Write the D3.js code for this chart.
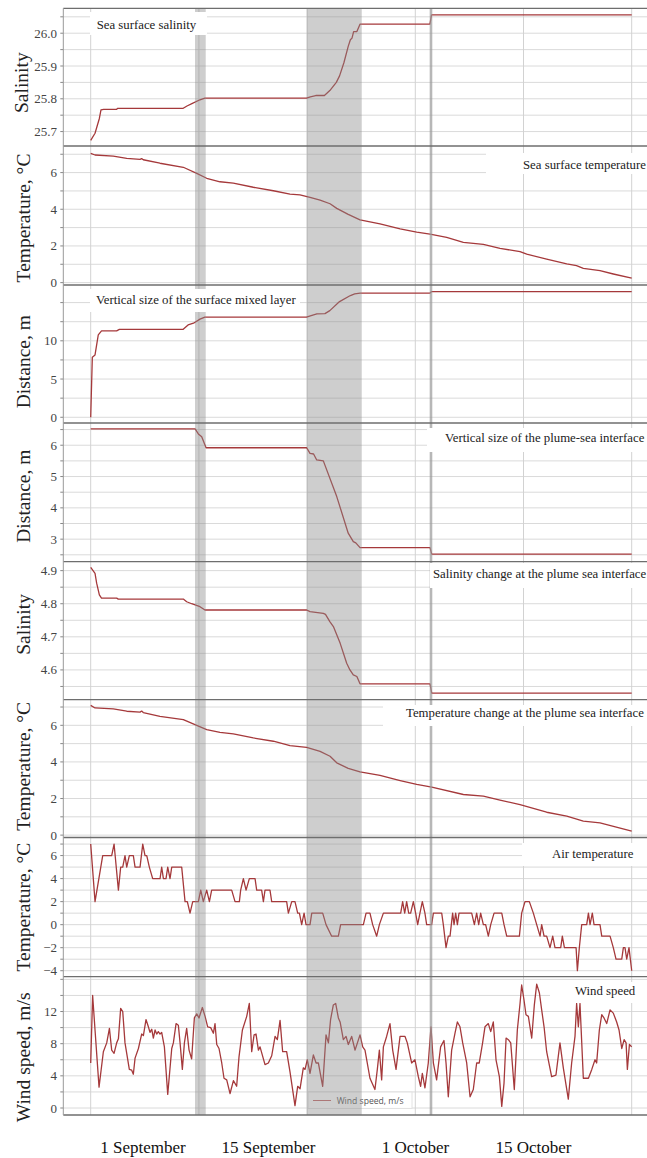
<!DOCTYPE html>
<html><head><meta charset="utf-8">
<script src="https://cdn.jsdelivr.net/npm/d3@7/dist/d3.min.js"></script>
<style>body{margin:0;background:#fff}svg{display:block}</style>
</head><body><svg id="c" width="647" height="1158"></svg>
<script>
// ---- data: [day since start, value] ----
const seaSurfaceSalinity = [[0,25.673],[0.4,25.695],[0.8,25.74],[0.95,25.766],[1.2,25.768],[2.4,25.768],[2.5,25.771],[8.55,25.771],[8.9,25.778],[9.35,25.785],[10.1,25.797],[10.55,25.802],[19.95,25.802],[20.3,25.806],[20.8,25.81],[21.6,25.81],[22.1,25.825],[22.7,25.85],[23.0,25.87],[23.4,25.91],[23.8,25.96],[24.0,25.98],[24.15,25.985],[24.3,26.005],[24.6,26.005],[24.9,26.028],[31.35,26.028],[31.5,26.056],[50,26.056]];
const seaSurfaceTemp = [[0,7.05],[0.4,6.96],[2.09,6.9],[3.33,6.78],[4.56,6.72],[4.71,6.76],[4.86,6.7],[6.4,6.51],[8.56,6.29],[9.8,5.96],[10.72,5.69],[11.95,5.5],[13.18,5.42],[15.03,5.2],[16.88,5.01],[18.42,4.83],[19.34,4.78],[20.27,4.65],[21.2,4.5],[22.12,4.3],[22.74,4.05],[23.8,3.72],[24.89,3.42],[26.74,3.2],[28.6,2.93],[30.13,2.75],[31.36,2.64],[32.9,2.47],[34.44,2.2],[36.29,2.09],[37.83,1.87],[39.68,1.69],[40.3,1.55],[42.14,1.28],[44.0,1.02],[44.9,0.93],[45.53,0.78],[47.07,0.65],[48.3,0.47],[50,0.24]];
const mixedLayerSize = [[0,0],[0.15,7.85],[0.4,8.15],[0.7,10.77],[1.0,11.3],[2.4,11.3],[2.65,11.5],[8.55,11.5],[9.0,12.08],[9.5,12.3],[10.1,12.83],[10.55,13.09],[19.95,13.09],[20.3,13.26],[20.9,13.52],[21.65,13.55],[22.1,13.95],[23.0,15.13],[24.0,15.92],[24.4,16.15],[24.9,16.23],[31.35,16.23],[31.5,16.44],[50,16.44]];
const interfaceSize = [[0,6.52],[9.65,6.52],[9.95,6.36],[10.26,6.27],[10.66,5.92],[19.96,5.92],[20.27,5.74],[20.6,5.72],[20.89,5.53],[21.5,5.5],[22.74,4.36],[23.8,3.19],[24.27,2.92],[24.5,2.88],[24.89,2.73],[31.36,2.73],[31.52,2.52],[50,2.52]];
const interfaceSalinity = [[0,4.91],[0.4,4.892],[0.55,4.862],[0.8,4.827],[1.0,4.817],[2.4,4.817],[2.55,4.814],[8.56,4.814],[8.87,4.806],[9.33,4.8],[10.1,4.791],[10.56,4.781],[19.96,4.781],[20.27,4.776],[21.5,4.771],[21.7,4.768],[22.1,4.746],[22.43,4.731],[23.05,4.681],[23.66,4.62],[23.96,4.6],[24.27,4.585],[24.6,4.58],[24.89,4.558],[31.36,4.558],[31.52,4.53],[50,4.53]];
const interfaceTemp = [[0,7.09],[0.4,6.95],[2.09,6.9],[3.33,6.77],[4.56,6.72],[4.71,6.78],[4.86,6.7],[6.4,6.49],[8.56,6.31],[9.8,6.0],[10.72,5.77],[11.95,5.62],[13.18,5.53],[15.03,5.31],[16.88,5.13],[18.42,4.89],[19.96,4.8],[21.2,4.58],[22.12,4.31],[22.74,3.95],[23.8,3.65],[24.89,3.46],[26.74,3.26],[28.6,2.98],[30.13,2.77],[31.52,2.62],[34.44,2.22],[36.29,2.13],[37.83,1.91],[39.68,1.67],[42.14,1.25],[44.0,1.04],[45.53,0.76],[47.07,0.67],[50,0.22]];
const airTemp = [[0,7],[0.4,2],[1.11,6],[1.94,6],[2.16,7],[2.56,3],[2.77,5],[2.96,5],[3.17,6],[3.33,5],[3.57,6],[3.94,6],[4.1,5],[4.56,5],[4.81,7],[5.02,6],[5.18,6],[5.42,5],[5.73,4],[6.41,4],[6.56,5],[6.72,4],[6.96,4],[7.12,5],[7.33,4],[7.49,5],[8.41,5],[8.72,2],[8.93,2],[9.18,1],[9.43,2],[9.95,2],[10.17,3],[10.41,2],[10.72,3],[10.97,2],[11.18,3],[13.03,3],[13.34,2],[13.74,2],[13.86,3],[14.11,4],[14.36,3],[14.66,4],[15.19,4],[15.34,3],[15.8,3],[15.96,2],[16.11,3],[16.57,3],[16.73,2],[18.11,2],[18.27,1],[18.58,2],[18.88,2],[19.13,1],[19.29,1],[19.5,0],[19.72,1],[19.9,0],[20.27,0],[20.43,1],[21.44,1],[21.75,0],[22.27,-1],[22.89,-1],[23.1,0],[25.2,0],[25.45,1],[25.81,1],[26.06,0],[26.43,-1],[26.68,0],[27.05,1],[28.65,1],[28.83,2],[29.02,1],[29.2,2],[29.39,1],[29.57,1],[29.82,2],[30.03,1],[30.22,0],[30.43,1],[30.65,2],[30.89,1],[31.05,0],[31.51,0],[31.67,1],[32.44,1],[32.59,0],[32.84,-2],[33.05,-1],[33.21,-1],[33.45,1],[33.58,0],[33.73,1],[33.89,0],[34.04,1],[35.21,1],[35.46,0],[35.67,1],[35.86,0],[36.04,1],[36.29,0],[36.5,0],[36.75,-1],[36.97,0],[37.28,1],[37.99,1],[38.2,0],[38.45,-1],[39.62,-1],[39.83,1],[40.14,2],[40.54,2],[40.91,1],[41.22,0],[41.53,-1],[41.68,0],[41.9,-1],[42.14,-1],[42.45,-2],[42.7,-1],[42.91,-2],[43.44,-2],[43.59,-1],[43.78,-2],[44.86,-2],[44.98,-4],[45.16,-2],[45.38,0],[45.84,0],[46.0,1],[46.15,0],[46.36,1],[46.52,0],[47.07,0],[47.23,-1],[48.0,-1],[48.3,-2],[48.55,-3],[49.08,-3],[49.23,-2],[49.38,-2],[49.54,-3],[49.75,-2],[50,-4]];
const windSpeed = [[0,5.6],[0.18,14],[0.4,9.7],[0.77,2.6],[1.17,7.0],[1.48,8.1],[1.73,9.9],[1.94,7.2],[2.16,6.8],[2.4,8.1],[2.56,8.6],[2.77,12.4],[2.96,12.0],[3.17,8.1],[3.57,4.8],[3.79,4.7],[3.94,4.2],[4.1,6.2],[4.41,7.4],[4.71,9.2],[4.87,9.0],[5.11,11.0],[5.33,10.1],[5.48,9.4],[5.64,9.8],[5.79,8.7],[5.95,9.7],[6.1,9.2],[6.25,9.5],[6.41,9.2],[6.56,9.4],[6.81,7.6],[7.12,1.7],[7.49,7.4],[7.64,8.1],[7.89,10.5],[8.1,10.3],[8.26,8.1],[8.47,4.8],[8.66,8.1],[8.87,9.9],[9.09,7.2],[9.33,6.1],[9.58,11.2],[9.8,11.7],[10.01,11.2],[10.32,12.5],[10.57,11.4],[10.81,10.1],[11.09,10.0],[11.34,9.3],[11.49,10.5],[11.65,7.9],[11.86,7.4],[12.11,5.6],[12.32,3.7],[12.57,3.5],[12.88,1.8],[13.19,3.4],[13.49,2.7],[13.71,6.4],[14.02,9.7],[14.42,11.4],[14.66,13.0],[14.88,7.0],[15.1,9.1],[15.28,9.2],[15.5,7.2],[15.65,7.6],[16.11,5.4],[16.42,5.6],[16.73,6.5],[17.04,8.9],[17.25,8.5],[17.5,10.9],[17.74,7.0],[18.11,7.0],[18.42,4.5],[18.88,0.3],[19.13,2.7],[19.35,2.4],[19.65,5.0],[19.81,4.8],[20.02,6.0],[20.27,4.3],[20.58,6.6],[20.83,5.6],[21.04,5.6],[21.44,2.7],[21.75,9.1],[21.97,8.1],[22.17,11.0],[22.42,12.8],[22.64,13.0],[22.89,11.2],[23.05,10.7],[23.35,8.5],[23.6,8.9],[23.81,7.9],[24.12,8.9],[24.43,7.2],[24.65,8.1],[24.89,9.1],[25.14,7.6],[25.35,7.2],[25.81,3.7],[26.27,2.3],[26.49,4.8],[26.68,7.2],[26.89,3.5],[27.05,7.6],[27.35,8.9],[27.66,10.5],[27.91,7.2],[28.22,4.8],[28.59,8.9],[29.05,8.9],[29.26,8.1],[29.66,5.6],[29.97,6.0],[30.28,3.9],[30.49,2.7],[30.65,4.3],[30.89,2.5],[31.2,5.6],[31.45,10.1],[31.67,5.6],[31.97,3.5],[32.34,7.6],[32.65,8.4],[32.84,5.6],[33.05,1.4],[33.36,7.2],[33.67,9.3],[33.89,10.7],[34.13,10.1],[34.38,8.1],[34.75,5.6],[35.06,1.4],[35.36,2.3],[35.67,5.6],[35.91,5.6],[36.22,8.1],[36.44,10.1],[36.75,10.5],[36.97,9.5],[37.21,10.7],[37.46,6.0],[37.77,3.9],[37.99,0.2],[38.2,3.1],[38.39,8.7],[38.6,8.5],[38.82,8.1],[39.15,2.3],[39.43,9.7],[39.68,13.0],[39.83,15.3],[40.05,13.4],[40.23,11.6],[40.45,11.4],[40.76,8.7],[41.0,12.8],[41.22,15.4],[41.47,14.3],[41.68,12.2],[41.9,10.1],[42.14,7.0],[42.6,3.9],[43.0,4.1],[43.37,8.1],[43.68,5.0],[44.14,1.1],[44.45,5.6],[44.76,8.9],[44.91,13.0],[45.07,10.1],[45.22,13.0],[45.53,3.7],[46.0,3.7],[46.31,4.8],[46.61,6.0],[46.76,5.6],[47.01,9.7],[47.23,11.6],[47.44,11.2],[47.69,10.5],[48.0,12.2],[48.3,11.8],[48.61,10.7],[48.83,9.7],[49.08,7.4],[49.3,8.5],[49.48,8.1],[49.6,4.8],[49.79,7.9],[50,7.6]];

const shadedPeriods = [[9.64,10.63],[19.97,25.05]];
const markerDay = 31.45;
const gridDays = [0,10,20,30,40,50];
const xTickDays = [4.79,16.39,29.97,40.87];
const xTickLabels = ["1 September","15 September","1 October","15 October"];

const yTitles = ["Salinity","Temperature, \u00B0C","Distance, m","Distance, m","Salinity","Temperature, \u00B0C","Temperature, \u00B0C","Wind speed, m/s"];
const panelLabels = ["Sea surface salinity","Sea surface temperature","Vertical size of the surface mixed layer","Vertical size of the plume-sea interface","Salinity change at the plume sea interface","Temperature change at the plume sea interface","Air temperature","Wind speed"];
const yTickValues = [[25.7,25.8,25.9,26.0],[0,2,4,6],[0,5,10],[3,4,5,6],[4.6,4.7,4.8,4.9],[0,2,4,6],[-4,-2,0,2,4,6],[0,4,8,12]];
const legendLabel = "Wind speed, m/s";

// ---- layout / style ----
const series = [seaSurfaceSalinity, seaSurfaceTemp, mixedLayerSize, interfaceSize, interfaceSalinity, interfaceTemp, airTemp, windSpeed];
const panelCfg = [
  {domain:[25.656,26.076], step:0.05, fmt:d3.format(".1f"), titleDy:5.5, titleX:28, box:[90,12,207,35], text:[96.7,29]},
  {domain:[-0.13,7.45], step:1, fmt:d3.format("d"), titleDy:2.5, titleX:30, box:[486,153,647,174], text:[523,168.5]},
  {domain:[-0.75,17.3], step:2.5, fmt:d3.format("d"), titleDy:7.7, titleX:30, box:[90,289,300,312], text:[96,304]},
  {domain:[2.28,6.71], step:0.5, fmt:d3.format("d"), titleDy:3.8, titleX:30, box:[427,428,647,452], text:[445,442]},
  {domain:[4.51,4.927], step:0.05, fmt:d3.format(".1f"), titleDy:-6.3, titleX:30, box:[430,563,647,588], text:[433,578]},
  {domain:[-0.13,7.4], step:1, fmt:d3.format("d"), titleDy:-2.3, titleX:30, box:[383,705,647,726], text:[406,717]},
  {domain:[-4.52,7.57], step:1, fmt:d3.format("d"), titleDy:0, titleX:30, box:[522,843,647,866], text:[552,858]},
  {domain:[-0.87,16.33], step:2, fmt:d3.format("d"), titleDy:11.5, titleX:30, box:[550,982,647,1003], text:[575,995]}
];
const edges = [8.3,146,285,423,561.7,699.7,837.5,976.7,1115];
const W = 647, axisX = 63.3;
const lineColor = "#a5393b";
const serif = "'Liberation Serif','Times New Roman',serif";

const svg = d3.select("#c");
const x = d3.scaleLinear().domain([0,50]).range([90.7,631.7]);
const defs = svg.append("defs");

const gGrid = svg.append("g"), gLines = svg.append("g"), gLegend = svg.append("g"),
      gBands = svg.append("g"), gBoxes = svg.append("g"), gFrame = svg.append("g"), gText = svg.append("g");

panelCfg.forEach((p,i)=>{
  const top = edges[i], bot = edges[i+1];
  const y = d3.scaleLinear().domain(p.domain).range([bot, top]);
  const k0 = Math.ceil(p.domain[0]/p.step - 1e-6), k1 = Math.floor(p.domain[1]/p.step + 1e-6);
  const gridVals = d3.range(k0, k1+1).map(k => +(k*p.step).toFixed(4));
  gGrid.selectAll(null).data(gridVals).join("line")
    .attr("x1", axisX).attr("x2", W).attr("y1", d=>y(d)).attr("y2", d=>y(d))
    .attr("stroke", "#dadada").attr("stroke-width", 1);
  gGrid.selectAll(null).data(gridDays).join("line")
    .attr("x1", d=>x(d)).attr("x2", d=>x(d)).attr("y1", top).attr("y2", bot)
    .attr("stroke", "#d2d2d2").attr("stroke-width", 1);
  gFrame.selectAll(null).data(gridVals).join("line")
    .attr("x1", axisX-3).attr("x2", axisX).attr("y1", d=>y(d)).attr("y2", d=>y(d))
    .attr("stroke", "#888").attr("stroke-width", 1);
  gText.selectAll(null).data(yTickValues[i]).join("text")
    .attr("x", 57).attr("y", d=>y(d)).attr("dy", "0.35em")
    .attr("text-anchor", "end").attr("font-family", serif).attr("font-size", 13)
    .attr("fill", "#444").text(d=>p.fmt(d));
  const cy = (top+bot)/2 + p.titleDy;
  gText.append("text").attr("transform", `translate(${p.titleX},${cy}) rotate(-90)`)
    .attr("text-anchor", "middle").attr("font-family", serif).attr("font-size", 19.5)
    .attr("fill", "#222").text(yTitles[i]);
  defs.append("clipPath").attr("id", "clip"+i).append("rect")
    .attr("x", axisX).attr("y", top).attr("width", W-axisX).attr("height", bot-top);
  gLines.append("path").datum(series[i])
    .attr("clip-path", `url(#clip${i})`)
    .attr("fill", "none").attr("stroke", lineColor).attr("stroke-width", 1.3)
    .attr("stroke-linejoin", "round")
    .attr("d", d3.line().x(d=>x(d[0])).y(d=>y(d[1])));
  gBands.selectAll(null).data(shadedPeriods).join("rect")
    .attr("x", d=>x(d[0])).attr("width", d=>x(d[1])-x(d[0]))
    .attr("y", top).attr("height", bot-top)
    .attr("fill", "#8a8a8a").attr("fill-opacity", 0.42);
  gBands.append("rect").attr("x", x(markerDay)-1.3).attr("width", 2.6)
    .attr("y", top).attr("height", bot-top).attr("fill", "#999").attr("fill-opacity", 0.7);
  const b = p.box;
  gBoxes.append("rect").attr("x", b[0]).attr("y", b[1]).attr("width", b[2]-b[0]).attr("height", b[3]-b[1]).attr("fill", "#fff");
  gBoxes.append("text").attr("x", p.text[0]).attr("y", p.text[1])
    .attr("font-family", serif).attr("font-size", 12.8).attr("fill", "#222").text(panelLabels[i]);
});

gFrame.selectAll(null).data(edges).join("line")
  .attr("x1", axisX).attr("x2", W).attr("y1", d=>d).attr("y2", d=>d)
  .attr("stroke", "#6e6e6e").attr("stroke-width", 1.3);
gFrame.append("line").attr("x1", axisX).attr("x2", axisX).attr("y1", edges[0]).attr("y2", edges[8])
  .attr("stroke", "#999").attr("stroke-width", 1);

gLegend.append("rect").attr("x", 308).attr("y", 1092).attr("width", 104).attr("height", 16.5)
  .attr("fill", "#fff").attr("fill-opacity", 0.85).attr("stroke", "#e2e2e2");
gLegend.append("line").attr("x1", 313).attr("x2", 331).attr("y1", 1100.5).attr("y2", 1100.5)
  .attr("stroke", "#c46a6a").attr("stroke-width", 1);
gLegend.append("text").attr("x", 336.7).attr("y", 1103.8)
  .attr("font-family", "'Open Sans',sans-serif").attr("font-size", 8.6).attr("fill", "#555").text(legendLabel);

const xAxis = d3.axisBottom(x).tickValues(xTickDays).tickFormat((d,i)=>xTickLabels[i]).tickSize(0).tickPadding(26);
const gx = svg.append("g").attr("transform", `translate(0,${edges[8]})`).call(xAxis);
gx.select(".domain").remove();
gx.selectAll("text").attr("font-family", serif).attr("font-size", 17).attr("fill", "#111");
</script></body></html>
